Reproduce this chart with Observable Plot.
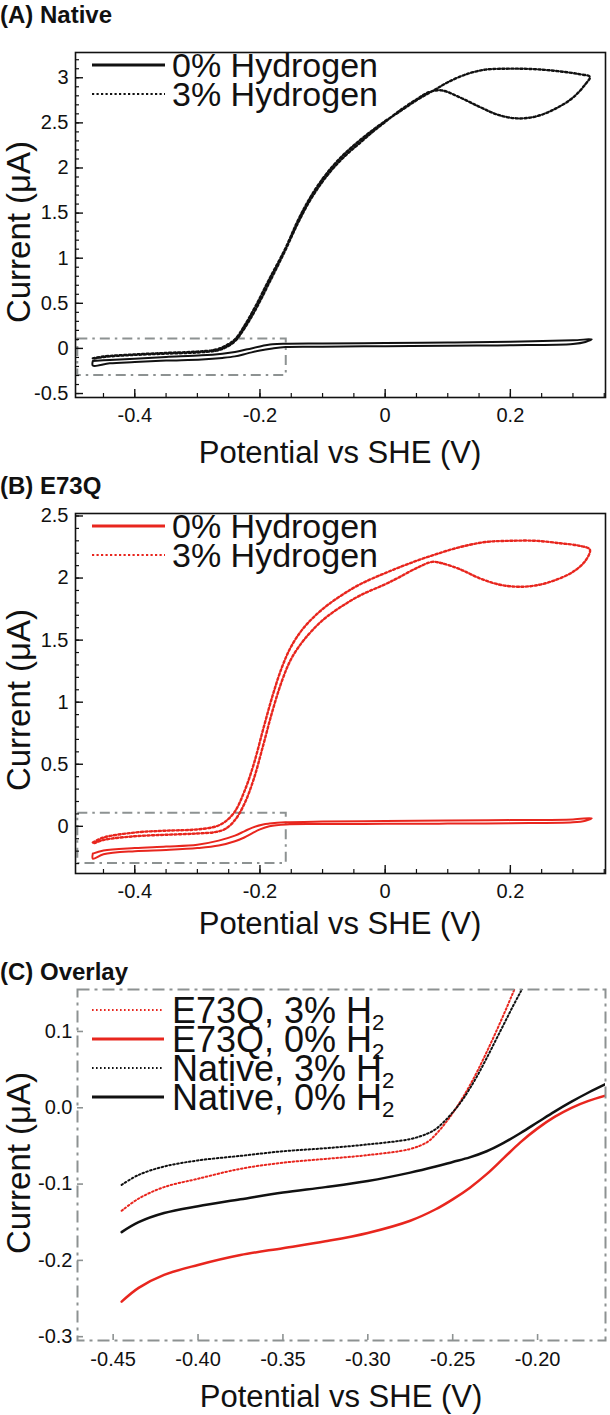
<!DOCTYPE html>
<html>
<head>
<meta charset="utf-8">
<script src="https://cdn.jsdelivr.net/npm/d3@7"></script>
<script src="https://cdn.jsdelivr.net/npm/@observablehq/plot@0.6"></script>
<style>
  body { margin: 0; background: #fff; }
  #wrap { position: relative; width: 610px; height: 1415px; font-family: "Liberation Sans", Arial, Helvetica, sans-serif; color: #111; overflow: hidden; }
  .panel { position: absolute; left: 0; }
  .ptitle { position: absolute; left: 5px; font-weight: bold; font-size: 24px; line-height: 1; white-space: nowrap; }
  .xt { position: absolute; font-size: 31px; line-height: 1; transform: translate(-50%, -50%); white-space: nowrap; }
  .yt { position: absolute; font-size: 33px; line-height: 1; transform: translate(-50%, -50%) rotate(-90deg); white-space: nowrap; }
</style>
</head>
<body>
<div id="wrap"></div>
<script>
// ---------------- DATA ----------------
// Panel A (Native) — cyclic voltammograms, listed in scan order
const aZeroV = [-0.467,-0.44,-0.40,-0.35,-0.293,-0.26,-0.24,-0.22,-0.20,-0.18,-0.159,-0.10,0.00,0.10,0.20,0.30,0.33,
                0.32,0.30,0.20,0.10,0.00,-0.10,-0.159,-0.18,-0.20,-0.22,-0.24,-0.26,-0.293,-0.35,-0.40,-0.44,-0.467,-0.467];
const aZeroI = [-0.14,-0.128,-0.114,-0.095,-0.077,-0.058,-0.04,-0.01,0.022,0.045,0.052,0.055,0.06,0.065,0.075,0.09,0.10,
                0.072,0.05,0.035,0.03,0.025,0.018,0.015,0.0,-0.022,-0.055,-0.088,-0.105,-0.122,-0.135,-0.151,-0.165,-0.19,-0.14];
const aThreeV = [-0.467,-0.45,-0.40,-0.35,-0.30,-0.27,-0.255,-0.24,-0.225,-0.207,-0.185,-0.16,-0.14,-0.12,-0.10,-0.08,-0.06,-0.04,-0.02,0.00,0.02,0.05,0.08,0.10,0.13,0.16,0.19,0.22,0.25,0.28,0.31,0.327,
                 0.32,0.30,0.27,0.24,0.21,0.18,0.15,0.12,0.09,0.07,0.05,0.02,0.00,-0.02,-0.04,-0.06,-0.08,-0.10,-0.12,-0.14,-0.16,-0.185,-0.207,-0.225,-0.24,-0.255,-0.27,-0.30,-0.35,-0.40,-0.45,-0.467];
const aThreeI = [-0.11,-0.09,-0.066,-0.05,-0.035,-0.012,0.03,0.10,0.25,0.47,0.77,1.10,1.41,1.67,1.88,2.05,2.19,2.31,2.42,2.52,2.61,2.75,2.87,2.95,3.04,3.09,3.10,3.10,3.09,3.07,3.04,3.01,
                 2.93,2.78,2.65,2.57,2.55,2.59,2.68,2.78,2.86,2.84,2.76,2.62,2.51,2.40,2.28,2.16,2.02,1.85,1.64,1.38,1.08,0.73,0.43,0.22,0.08,0.01,-0.025,-0.045,-0.058,-0.072,-0.095,-0.115];

// Panel B (E73Q)
const bZeroV = [-0.467,-0.45,-0.40,-0.35,-0.30,-0.266,-0.24,-0.225,-0.212,-0.195,-0.185,-0.16,-0.10,0.00,0.10,0.20,0.30,0.33,
                0.32,0.30,0.20,0.10,0.00,-0.10,-0.158,-0.185,-0.20,-0.212,-0.225,-0.24,-0.266,-0.30,-0.35,-0.40,-0.45,-0.467,-0.467];
const bZeroI = [-0.22,-0.195,-0.175,-0.163,-0.148,-0.115,-0.075,-0.04,-0.01,0.015,0.022,0.032,0.038,0.042,0.046,0.05,0.056,0.065,
                0.045,0.032,0.025,0.022,0.02,0.018,0.015,0.0,-0.025,-0.055,-0.09,-0.12,-0.155,-0.175,-0.19,-0.20,-0.225,-0.26,-0.22];
const bThreeV = [-0.467,-0.45,-0.40,-0.35,-0.30,-0.27,-0.255,-0.24,-0.225,-0.21,-0.195,-0.18,-0.165,-0.15,-0.13,-0.10,-0.07,-0.04,0.00,0.04,0.08,0.12,0.16,0.20,0.24,0.28,0.31,0.327,
                 0.32,0.30,0.27,0.24,0.21,0.18,0.15,0.12,0.09,0.075,0.05,0.02,0.00,-0.04,-0.07,-0.10,-0.13,-0.15,-0.165,-0.18,-0.195,-0.21,-0.225,-0.24,-0.255,-0.27,-0.30,-0.35,-0.40,-0.45,-0.467];
const bThreeI = [-0.13,-0.09,-0.05,-0.035,-0.025,0.0,0.04,0.12,0.28,0.50,0.78,1.05,1.28,1.45,1.60,1.75,1.86,1.95,2.04,2.12,2.19,2.25,2.29,2.30,2.30,2.28,2.26,2.23,
                 2.14,2.05,1.98,1.94,1.93,1.95,2.00,2.07,2.12,2.13,2.08,2.00,1.95,1.86,1.77,1.66,1.50,1.35,1.17,0.93,0.65,0.38,0.18,0.05,-0.02,-0.045,-0.058,-0.068,-0.08,-0.11,-0.14];

// Panel C (Overlay, zoomed region)
const cNat0V = [-0.445,-0.435,-0.42,-0.40,-0.375,-0.35,-0.325,-0.30,-0.275,-0.26,-0.25,-0.24,-0.23,-0.22,-0.21,-0.20,-0.19,-0.18,-0.17,-0.16];
const cNat0I = [-0.163,-0.150,-0.138,-0.129,-0.120,-0.111,-0.104,-0.096,-0.085,-0.077,-0.071,-0.065,-0.057,-0.046,-0.033,-0.019,-0.005,0.008,0.020,0.031];
const cE0V   = [-0.445,-0.435,-0.42,-0.40,-0.375,-0.35,-0.325,-0.30,-0.275,-0.26,-0.25,-0.24,-0.23,-0.22,-0.21,-0.20,-0.19,-0.18,-0.17,-0.16];
const cE0I   = [-0.254,-0.236,-0.219,-0.206,-0.193,-0.184,-0.175,-0.164,-0.148,-0.133,-0.120,-0.105,-0.087,-0.066,-0.045,-0.027,-0.012,0.000,0.009,0.016];
const cNat3V = [-0.445,-0.435,-0.42,-0.40,-0.375,-0.35,-0.325,-0.30,-0.275,-0.265,-0.26,-0.255,-0.25,-0.245,-0.24,-0.235,-0.23,-0.225,-0.22,-0.215,-0.21,-0.205];
const cNat3I = [-0.101,-0.088,-0.077,-0.069,-0.063,-0.057,-0.053,-0.048,-0.041,-0.034,-0.028,-0.018,-0.006,0.008,0.025,0.044,0.065,0.087,0.109,0.131,0.152,0.172];
const cE3V   = [-0.445,-0.435,-0.42,-0.40,-0.375,-0.35,-0.325,-0.30,-0.275,-0.265,-0.26,-0.255,-0.25,-0.245,-0.24,-0.235,-0.23,-0.225,-0.22,-0.215,-0.21];
const cE3I   = [-0.135,-0.119,-0.104,-0.093,-0.080,-0.072,-0.067,-0.062,-0.054,-0.045,-0.035,-0.022,-0.007,0.010,0.029,0.050,0.073,0.097,0.122,0.148,0.175];

// inset box drawn on panels A and B (region shown in C)
const insetV = [-0.491, -0.158];
const insetI = [-0.30, 0.105];

// ticks & labels
const abXTicks = [-0.4, -0.2, 0, 0.2];
const aYTicks = [-0.5, 0, 0.5, 1, 1.5, 2, 2.5, 3];
const bYTicks = [0, 0.5, 1, 1.5, 2, 2.5];
const cXTicks = [-0.45, -0.40, -0.35, -0.30, -0.25, -0.20];
const cYTicks = [-0.3, -0.2, -0.1, 0.0, 0.1];
const panelTitles = ["(A) Native", "(B) E73Q", "(C) Overlay"];
const xTitle = "Potential vs SHE (V)";
const yTitle = "Current (\u03bcA)";
const legendAB = ["0% Hydrogen", "3% Hydrogen"];
const legendC = ["E73Q, 3% H", "E73Q, 0% H", "Native, 3% H", "Native, 0% H"];

// ---------------- STYLE ----------------
const FONT = '"Liberation Sans", Arial, Helvetica, sans-serif';
const BLACK = "#111111", RED = "#e8261e", GRAY = "#8d9292";
const DOT_AB = "2.2,2.3", DOT_C = "1.6,2.4";

const pts = (V, I) => V.map((v, k) => ({v, i: I[k]}));
const fmtPlain = d => String(+d.toFixed(2));
const wrap = document.getElementById("wrap");

function place(cls, text, x, y) {
  const d = document.createElement("div");
  d.className = cls; d.textContent = text;
  d.style.left = x + "px"; d.style.top = y + "px";
  wrap.appendChild(d);
}

function addLegend(svg, items, x0, x1, xt, y0, dy, fs, sub) {
  const g = d3.select(svg).append("g")
    .attr("font-family", FONT).attr("fill", "#111").attr("text-anchor", "start");
  items.forEach((it, k) => {
    const y = y0 + k * dy;
    g.append("line").attr("x1", x0).attr("x2", x1).attr("y1", y).attr("y2", y)
      .attr("stroke", it.color).attr("stroke-width", it.dash ? 2.2 : 3)
      .attr("stroke-dasharray", it.dash || null);
    const t = g.append("text").attr("x", xt).attr("y", y + fs * 0.36)
      .attr("font-size", fs).attr("text-anchor", "start").text(it.label);
    if (sub) t.append("tspan").attr("font-size", fs * 0.62).attr("dy", fs * 0.2).text("2");
  });
}

function cvPanel({top, height, mt, mb, yDomain, yTicks, curves, legend}) {
  const xDomain = [-0.4947, 0.352];
  const xMinor = d3.range(-0.45, 0.351, 0.05).filter(v => v > xDomain[0] && v < xDomain[1]);
  const yMinor = d3.range(-0.5, 3.31, 0.1).filter(v => v > yDomain[0] && v < yDomain[1]);
  const svg = Plot.plot({
    width: 610, height,
    marginTop: mt, marginBottom: mb, marginLeft: 75, marginRight: 5,
    x: {domain: xDomain}, y: {domain: yDomain},
    style: {fontFamily: FONT, background: "transparent", color: "#111", overflow: "visible"},
    marks: [
      Plot.rect([{x1: insetV[0], x2: insetV[1], y1: insetI[0], y2: insetI[1]}],
        {x1: "x1", x2: "x2", y1: "y1", y2: "y2", fill: "none", stroke: GRAY, strokeWidth: 2, strokeDasharray: "10,5,2.5,5"}),
      ...curves.map(c => Plot.line(c.data, {x: "v", y: "i", stroke: c.color, strokeWidth: c.dash ? 2.4 : 2,
        strokeDasharray: c.dash || null, curve: "catmull-rom", clip: true})),
      Plot.frame({stroke: BLACK, strokeWidth: 1.6}),
      Plot.axisX(xMinor, {tickSize: -4, fill: "none", label: null, strokeWidth: 1.2}),
      Plot.axisX(abXTicks, {tickSize: -8, fill: "none", label: null, strokeWidth: 1.4}),
      Plot.axisX(abXTicks, {tickSize: 0, tickPadding: 10, tickFormat: fmtPlain, fontSize: 20, label: null}),
      Plot.axisY(yMinor, {tickSize: -4, fill: "none", label: null, strokeWidth: 1.2}),
      Plot.axisY(yTicks, {tickSize: -8, fill: "none", label: null, strokeWidth: 1.4}),
      Plot.axisY(yTicks, {tickSize: 0, tickPadding: 7, tickFormat: fmtPlain, fontSize: 20, label: null})
    ]
  });
  svg.classList.add("panel");
  svg.style.top = top + "px";
  addLegend(svg, legend, 92, 165, 172, mt + 13, 29, 34, false);
  wrap.appendChild(svg);
}

// ---------------- PANEL A ----------------
place("ptitle", panelTitles[0], 0, 3);
cvPanel({
  top: 0, height: 470, mt: 52, mb: 73, yDomain: [-0.544, 3.28], yTicks: aYTicks,
  curves: [
    {data: pts(aZeroV, aZeroI), color: BLACK},
    {data: pts(aThreeV, aThreeI), color: BLACK, dash: DOT_AB}
  ],
  legend: [{label: legendAB[0], color: BLACK}, {label: legendAB[1], color: BLACK, dash: DOT_AB}]
});
place("xt", xTitle, 340, 452);
place("yt", yTitle, 18, 232);

// ---------------- PANEL B ----------------
place("ptitle", panelTitles[1], 0, 474);
cvPanel({
  top: 470, height: 475, mt: 43, mb: 72, yDomain: [-0.38, 2.52], yTicks: bYTicks,
  curves: [
    {data: pts(bZeroV, bZeroI), color: RED},
    {data: pts(bThreeV, bThreeI), color: RED, dash: DOT_AB}
  ],
  legend: [{label: legendAB[0], color: RED}, {label: legendAB[1], color: RED, dash: DOT_AB}]
});
place("xt", xTitle, 340, 923);
place("yt", yTitle, 18, 700);

// ---------------- PANEL C ----------------
place("ptitle", panelTitles[2], 0, 960);
{
  const mt = 44;
  const svg = Plot.plot({
    width: 610, height: 470,
    marginTop: mt, marginBottom: 75, marginLeft: 77, marginRight: 5,
    x: {domain: [-0.471, -0.160]}, y: {domain: [-0.305, 0.155]},
    style: {fontFamily: FONT, background: "transparent", color: "#111", overflow: "visible"},
    marks: [
      Plot.line(pts(cE3V, cE3I), {x: "v", y: "i", stroke: RED, strokeWidth: 2, strokeDasharray: DOT_C, curve: "catmull-rom", clip: true}),
      Plot.line(pts(cE0V, cE0I), {x: "v", y: "i", stroke: RED, strokeWidth: 2.5, curve: "catmull-rom", clip: true}),
      Plot.line(pts(cNat3V, cNat3I), {x: "v", y: "i", stroke: BLACK, strokeWidth: 2, strokeDasharray: DOT_C, curve: "catmull-rom", clip: true}),
      Plot.line(pts(cNat0V, cNat0I), {x: "v", y: "i", stroke: BLACK, strokeWidth: 2.5, curve: "catmull-rom", clip: true}),
      Plot.frame({stroke: GRAY, strokeWidth: 2, strokeDasharray: "12,5,3,5"}),
      Plot.axisX(cXTicks, {tickSize: -6, fill: "none", label: null, stroke: GRAY, strokeWidth: 1.6}),
      Plot.axisX(cXTicks, {tickSize: 0, tickPadding: 11, tickFormat: d => d.toFixed(2), fontSize: 20, label: null}),
      Plot.axisY(cYTicks, {tickSize: -6, fill: "none", label: null, stroke: GRAY, strokeWidth: 1.6}),
      Plot.axisY(cYTicks, {tickSize: 0, tickPadding: 5, tickFormat: d => d.toFixed(1), fontSize: 20, label: null})
    ]
  });
  svg.classList.add("panel");
  svg.style.top = "945px";
  addLegend(svg, [
    {label: legendC[0], color: RED, dash: DOT_C},
    {label: legendC[1], color: RED},
    {label: legendC[2], color: BLACK, dash: DOT_C},
    {label: legendC[3], color: BLACK}
  ], 92, 164, 172, 65, 29, 36, true);
  wrap.appendChild(svg);
}
place("xt", xTitle, 341, 1396);
place("yt", yTitle, 18, 1163);
</script>
</body>
</html>
